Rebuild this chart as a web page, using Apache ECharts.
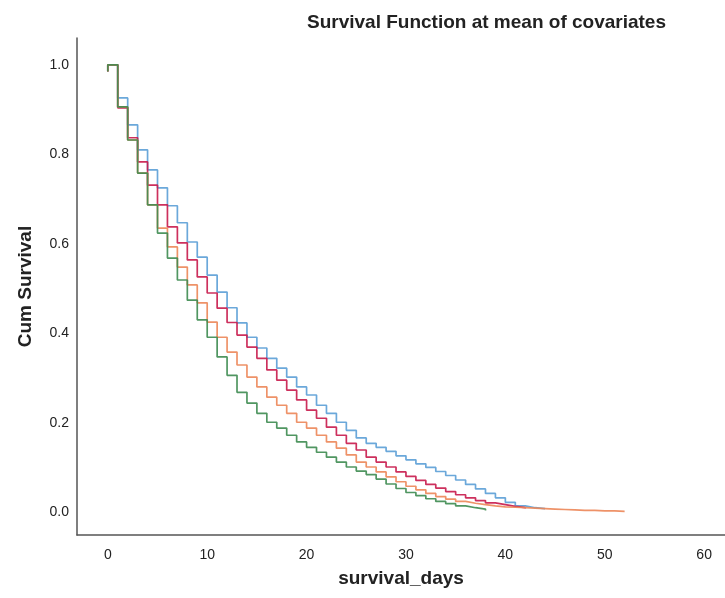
<!DOCTYPE html>
<html>
<head>
<meta charset="utf-8">
<script src="https://cdn.jsdelivr.net/npm/echarts@6/dist/echarts.min.js"></script>
<style>
html,body{margin:0;padding:0;background:#fff;}
#chart{width:725px;height:598px;}
</style>
</head>
<body>
<div id="chart"></div>
<script>
// Day-by-day cumulative survival (value at day index = survival from that day on)
const initialValue = 0.985;
const blueVals = [1.000,0.926,0.866,0.810,0.765,0.725,0.685,0.647,0.604,0.570,0.530,0.492,0.457,0.423,0.391,0.367,0.344,0.322,0.302,0.280,0.262,0.239,0.221,0.201,0.183,0.166,0.154,0.145,0.136,0.126,0.117,0.108,0.100,0.091,0.082,0.072,0.062,0.052,0.042,0.032,0.022,0.014,0.010,0.008,0.007];
const redVals = [1.000,0.904,0.837,0.783,0.731,0.687,0.638,0.602,0.564,0.526,0.490,0.456,0.424,0.396,0.369,0.344,0.318,0.295,0.273,0.251,0.228,0.210,0.190,0.172,0.154,0.139,0.123,0.112,0.101,0.090,0.080,0.071,0.062,0.054,0.046,0.039,0.032,0.026,0.021,0.017,0.013,0.010,0.008];
const orangeVals = [1.000,0.906,0.832,0.758,0.687,0.635,0.593,0.548,0.508,0.468,0.425,0.391,0.358,0.329,0.302,0.280,0.257,0.239,0.221,0.201,0.188,0.172,0.157,0.143,0.128,0.112,0.101,0.090,0.079,0.068,0.058,0.050,0.042,0.035,0.029,0.024,0.020,0.017,0.014,0.012,0.011,0.010,0.009,0.008,0.007,0.006,0.005,0.004,0.004,0.003,0.003,0.002,0.002];
const greenVals = [1.000,0.906,0.832,0.758,0.687,0.624,0.568,0.519,0.474,0.430,0.391,0.347,0.306,0.268,0.244,0.221,0.201,0.188,0.172,0.157,0.145,0.134,0.123,0.112,0.101,0.092,0.084,0.074,0.063,0.053,0.044,0.037,0.030,0.024,0.019,0.014,0.010,0.007,0.004];
const seriesNames = ['Group 1','Group 2','Group 3','Group 4'];
const seriesColors = ['#5b9fd6','#c8194b','#ec8658','#3d8b50'];
const xTicks = [0,10,20,30,40,50,60];
const yTicks = [0,0.2,0.4,0.6,0.8,1.0];

function toData(vals){
  const d = [[0, initialValue]];
  vals.forEach((v,i)=>d.push([i,v]));
  return d;
}
const allVals = [blueVals, redVals, orangeVals, greenVals];

const chart = echarts.init(document.getElementById('chart'));
const font = '"Liberation Sans", Arial, sans-serif';
chart.setOption({
  animation:false,
  backgroundColor:'#fff',
  title:{
    text:'Survival Function at mean of covariates',
    left:302, top:8,
    textStyle:{fontFamily:font,fontSize:19,fontWeight:'bold',color:'#222'}
  },
  grid:{left:77,right:0,top:38,bottom:63,containLabel:false,outerBoundsMode:'none'},
  xAxis:{
    type:'value', min:-3.1, max:62.1,
    name:'survival_days', nameLocation:'middle', nameGap:34,
    nameTextStyle:{fontFamily:font,fontSize:19,fontWeight:'bold',color:'#222'},
    axisLine:{show:true,onZero:false,lineStyle:{color:'#555',width:1.5}},
    axisTick:{show:false},
    splitLine:{show:false},
    axisLabel:{customValues:xTicks,margin:13,fontFamily:font,fontSize:14,color:'#222'}
  },
  yAxis:{
    type:'value', min:-0.051, max:1.06,
    name:'Cum Survival', nameLocation:'middle', nameGap:42, nameRotate:90,
    nameTextStyle:{fontFamily:font,fontSize:19,fontWeight:'bold',color:'#222'},
    axisLine:{show:true,onZero:false,lineStyle:{color:'#555',width:1.5}},
    axisTick:{show:false},
    splitLine:{show:false},
    axisLabel:{customValues:yTicks,margin:8,fontFamily:font,fontSize:14,color:'#222',
      formatter:v=>v.toFixed(1)}
  },
  series: allVals.map((vals,k)=>({
    name:seriesNames[k], type:'line', step:'end', showSymbol:false,
    data:toData(vals),
    lineStyle:{color:seriesColors[k],width:1.7,opacity:0.9},
    itemStyle:{color:seriesColors[k]},
    z:2+k
  }))
});
</script>
</body>
</html>
